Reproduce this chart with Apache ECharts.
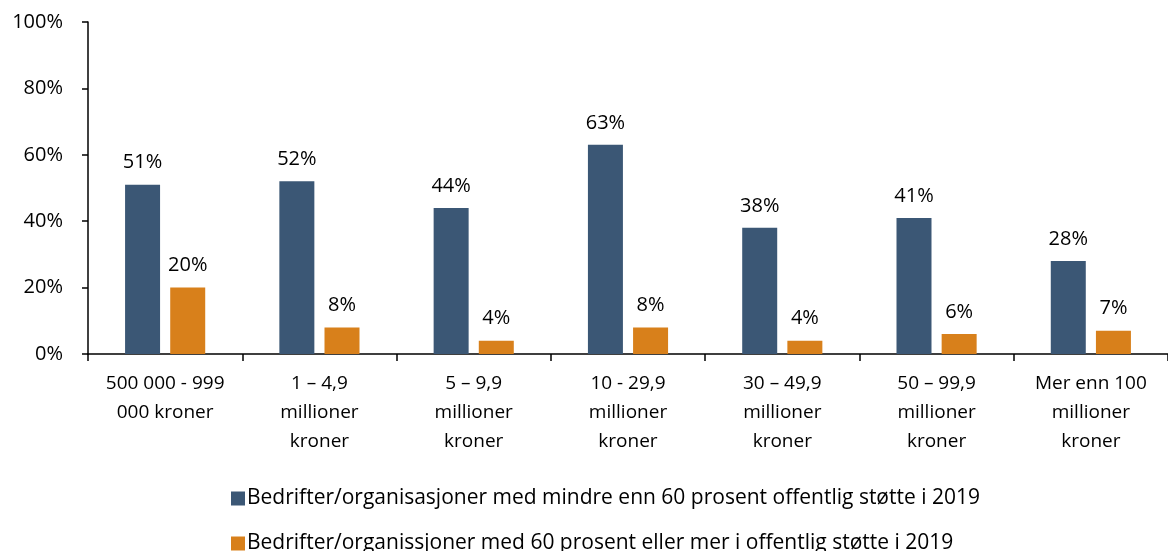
<!DOCTYPE html>
<html>
<head>
<meta charset="utf-8">
<script src="https://cdn.jsdelivr.net/npm/echarts@6/dist/echarts.min.js"></script>
<style>
  html, body { margin: 0; padding: 0; background: #fff; }
  #main { width: 1168px; height: 551px; }
</style>
</head>
<body>
<div id="main"></div>
<script>
var categories = [
  "500 000 - 999\n000 kroner",
  "1 – 4,9\nmillioner\nkroner",
  "5 – 9,9\nmillioner\nkroner",
  "10 - 29,9\nmillioner\nkroner",
  "30 – 49,9\nmillioner\nkroner",
  "50 – 99,9\nmillioner\nkroner",
  "Mer enn 100\nmillioner\nkroner"
];
var seriesNames = [
  "Bedrifter/organisasjoner med mindre enn 60 prosent offentlig støtte i 2019",
  "Bedrifter/organissjoner med 60 prosent eller mer i offentlig støtte i 2019"
];
var under60 = [51, 52, 44, 63, 38, 41, 28];
var over60 = [20, 8, 4, 8, 4, 6, 7];
var yTicks = [0, 20, 40, 60, 80, 100];

var font = "'Open Sans', 'Noto Sans', sans-serif";
var colors = ["#3b5775", "#d8801b"];

var myChart = echarts.init(document.getElementById("main"));

function barSeries(name, data, color) {
  return {
    name: name,
    type: "bar",
    data: data,
    barWidth: 35,
    barGap: "29%",
    itemStyle: { color: color },
    label: {
      show: true,
      position: "top",
      distance: 12,
      formatter: "{c}%",
      color: "#000",
      fontFamily: font,
      fontSize: 20
    }
  };
}

// one legend per row so they stack like the original
function legendRow(name, top) {
  return {
    left: 226,
    top: top,
    itemWidth: 14,
    itemHeight: 14,
    icon: "rect",
    textStyle: { color: "#000", fontFamily: font, fontSize: 21, padding: [0, 0, 0, -3] },
    data: [name]
  };
}

var option = {
  animation: false,
  textStyle: { fontFamily: font },
  grid: { left: 88, right: 0, top: 22, bottom: 197 },
  legend: [
    legendRow(seriesNames[0], 483),
    legendRow(seriesNames[1], 528)
  ],
  xAxis: {
    type: "category",
    data: categories,
    axisLine: { lineStyle: { color: "#000", width: 1.5 } },
    axisTick: { show: true, length: 7, lineStyle: { color: "#000", width: 1.5 } },
    axisLabel: {
      color: "#000",
      fontFamily: font,
      fontSize: 19,
      lineHeight: 29,
      margin: 15,
      interval: 0
    }
  },
  yAxis: {
    type: "value",
    min: yTicks[0],
    max: yTicks[yTicks.length - 1],
    interval: 20,
    splitLine: { show: false },
    axisLine: { show: true, lineStyle: { color: "#000", width: 1.5 } },
    axisTick: { show: true, length: 6, lineStyle: { color: "#000", width: 1.5 } },
    axisLabel: {
      color: "#000",
      fontFamily: font,
      fontSize: 20,
      margin: 25,
      formatter: "{value}%"
    }
  },
  series: [
    barSeries(seriesNames[0], under60, colors[0]),
    barSeries(seriesNames[1], over60, colors[1])
  ]
};

myChart.setOption(option);
</script>
</body>
</html>
